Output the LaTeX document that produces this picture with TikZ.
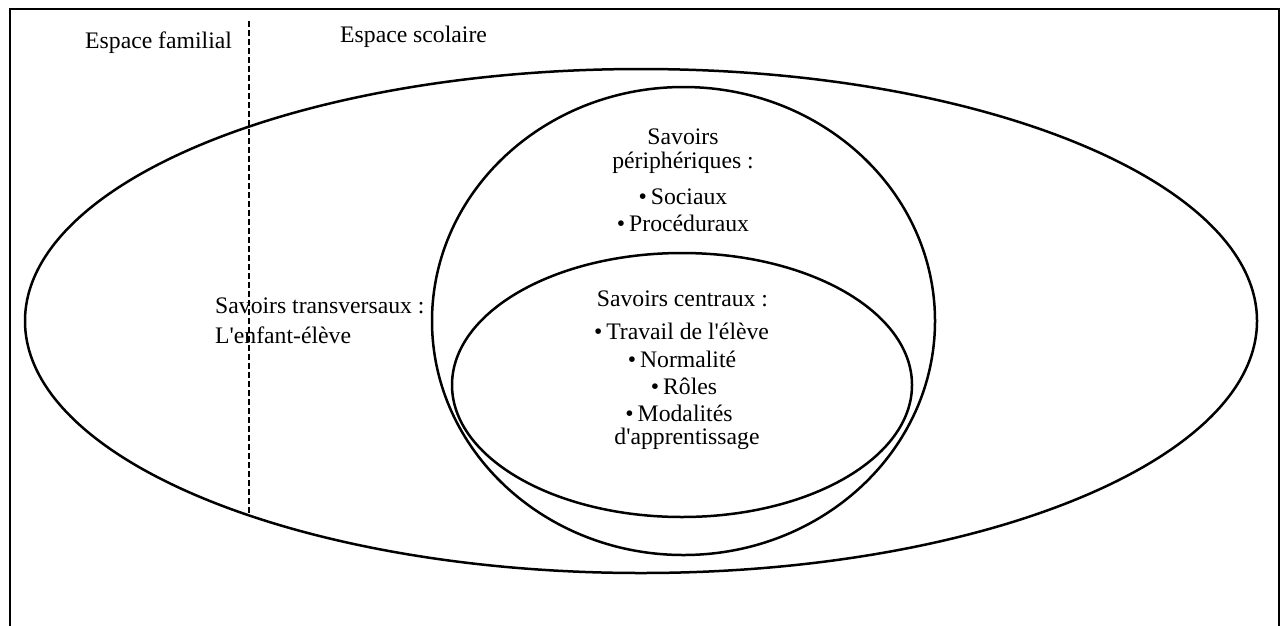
\documentclass[tikz,border=0pt]{standalone}
\usepackage{fontspec}
\setmainfont{Liberation Serif}
\newfontfamily\rawserif{Liberation Serif}
\begin{document}
\begin{tikzpicture}[x=1pt,y=-1pt,
  shape line/.style={line width=2.5pt},
  txt/.style={inner sep=0pt, font=\rawserif\fontsize{23.7}{26}\selectfont},
  ctxt/.style={txt, anchor=base},
  ltxt/.style={txt, anchor=base west}]
\useasboundingbox (0,0) rectangle (1282,625);
\clip (0,0) rectangle (1282,625);
% frame
\draw[line width=2.6pt] (10,9) rectangle (1279,680);
% ellipses
\draw[shape line] (641,321) ellipse [x radius=616pt, y radius=252pt];
\draw[shape line] (683.5,321) ellipse [x radius=251.5pt, y radius=234pt];
\draw[shape line] (682,385) ellipse [x radius=230pt, y radius=132pt];
% dashed separator
\coordinate (dtop) at (249,21);
\coordinate (dbot) at (249,515);
\draw[line width=2.8pt, dash pattern=on 6pt off 3pt] (dtop) -- (dbot);
% space labels
\node[ltxt] (fam) at (85,48) {Espace familial};
\node[ltxt] (sco) at (340,42) {Espace scolaire};
% transversal
\node[ltxt] (trans) at (215,313) {Savoirs transversaux :};
\node[ltxt] (enf) at (215,343) {L'enfant-élève};
% peripheral
\node[ctxt] (p1) at (683,144) {Savoirs};
\node[ctxt] (p2) at (683,168) {périphériques :};
\node[ctxt] (p3) at (683,204) {•\,Sociaux};
\node[ctxt] (p4) at (683,231) {•\,Procéduraux};
% central
\node[ctxt] (c1) at (682.5,306) {Savoirs centraux :};
\node[ctxt] (c2) at (681.5,339) {•\,Travail de l'élève};
\node[ctxt] (c3) at (682,367) {•\,Normalité};
\node[ctxt] (c4) at (684,394) {•\,Rôles};
\node[ctxt] (c5) at (679,421) {•\,Modalités};
\node[ctxt] (c6) at (687,444) {d'apprentissage};
\end{tikzpicture}
\end{document}
